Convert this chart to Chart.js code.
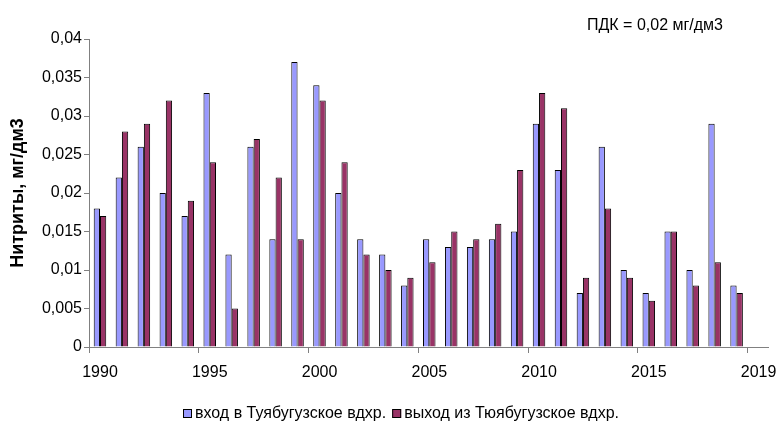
<!DOCTYPE html>
<html lang="ru">
<head>
    <meta charset="UTF-8">
    <title>Нитриты</title>
    <script src="https://cdn.jsdelivr.net/npm/chart.js"></script>
    <style>
        body { margin: 0; background: #ffffff; }
        #chart { display: block; }
    </style>
</head>
<body>
    <canvas id="chart" width="777" height="426"></canvas>

    <script>
        // data
        const years = [1990, 1991, 1992, 1993, 1994, 1995, 1996, 1997, 1998, 1999,
                       2000, 2001, 2002, 2003, 2004, 2005, 2006, 2007, 2008, 2009,
                       2010, 2011, 2012, 2013, 2014, 2015, 2016, 2017, 2018, 2019];
        const inflow = [0.018, 0.022, 0.026, 0.020, 0.017, 0.033, 0.012, 0.026, 0.014, 0.037,
                        0.034, 0.020, 0.014, 0.012, 0.008, 0.014, 0.013, 0.013, 0.014, 0.015,
                        0.029, 0.023, 0.007, 0.026, 0.010, 0.007, 0.015, 0.010, 0.029, 0.008];
        const outflow = [0.017, 0.028, 0.029, 0.032, 0.019, 0.024, 0.005, 0.027, 0.022, 0.014,
                         0.032, 0.024, 0.012, 0.010, 0.009, 0.011, 0.015, 0.014, 0.016, 0.023,
                         0.033, 0.031, 0.009, 0.018, 0.009, 0.006, 0.015, 0.008, 0.011, 0.007];
        const xTickValues = [1990, 1995, 2000, 2005, 2010, 2015, 2020];
        const xTickLabels = ['1990', '1995', '2000', '2005', '2010', '2015', '2019'];
        const yTickLabels = ['0', '0,005', '0,01', '0,015', '0,02', '0,025', '0,03', '0,035', '0,04'];
        const seriesNames = ['вход в Туябугузское вдхр.', 'выход из Тюябугузское вдхр.'];
        const noteText = 'ПДК = 0,02 мг/дм3';

        const axisColor = '#808080';
        const font = 'Liberation Sans, Arial, sans-serif';

        // each year's pair of bars sits in the middle of its year interval
        const toPoints = vals => vals.map((v, i) => ({ x: years[i] + 0.5, y: v }));

        // legend + ПДК note, drawn by hand so they sit where the original has them
        const extras = {
            id: 'extras',
            afterDraw(chart) {
                const ctx = chart.ctx;
                ctx.save();
                ctx.font = '16px ' + font;
                ctx.textBaseline = 'middle';
                ctx.fillStyle = '#000';
                ctx.fillText(noteText, 587, 26);

                let x = 183;
                const y = 409, box = 9;
                chart.data.datasets.forEach(ds => {
                    ctx.fillStyle = ds.backgroundColor;
                    ctx.fillRect(x, y, box, box);
                    ctx.strokeStyle = '#000';
                    ctx.lineWidth = 1;
                    ctx.strokeRect(x + 0.5, y + 0.5, box - 1, box - 1);
                    ctx.fillStyle = '#000';
                    ctx.fillText(ds.label, x + box + 3, y + box / 2 + 0.5);
                    x += box + 3 + ctx.measureText(ds.label).width + 6;
                });
                ctx.restore();
            }
        };

        new Chart(document.getElementById('chart'), {
            type: 'bar',
            data: {
                datasets: [
                    {
                        label: seriesNames[0],
                        data: toPoints(inflow),
                        backgroundColor: '#9999ff',
                        borderColor: '#000000',
                        borderWidth: 1,
                        barPercentage: 1.0,
                        categoryPercentage: 0.57
                    },
                    {
                        label: seriesNames[1],
                        data: toPoints(outflow),
                        backgroundColor: '#993366',
                        borderColor: '#000000',
                        borderWidth: 1,
                        barPercentage: 1.0,
                        categoryPercentage: 0.57
                    }
                ]
            },
            options: {
                responsive: false,
                animation: false,
                devicePixelRatio: 1,
                layout: { padding: { top: 39, right: 9, bottom: 0, left: 0 } },
                scales: {
                    x: {
                        type: 'linear',
                        min: 1990,
                        max: 2020.93,
                        offset: false,
                        grid: { offset: false, drawOnChartArea: false, drawTicks: true, tickLength: 6, color: axisColor },
                        border: { color: axisColor, width: 1 },
                        afterBuildTicks: scale => {
                            scale.ticks = xTickValues.map(v => ({ value: v }));
                        },
                        afterFit: scale => { scale.height = 79; },
                        ticks: {
                            autoSkip: false,
                            maxRotation: 0,
                            padding: 10,
                            labelOffset: 11,
                            color: '#000',
                            font: { family: font, size: 16 },
                            callback: (v, i) => xTickLabels[i]
                        }
                    },
                    y: {
                        min: 0,
                        max: 0.04,
                        grid: { drawOnChartArea: false, drawTicks: true, tickLength: 5, color: axisColor },
                        border: { color: axisColor, width: 1 },
                        afterFit: scale => { scale.width = 89; },
                        ticks: {
                            stepSize: 0.005,
                            padding: 2,
                            color: '#000',
                            font: { family: font, size: 16 },
                            callback: (v, i) => yTickLabels[i]
                        },
                        title: {
                            display: true,
                            text: 'Нитриты, мг/дм3',
                            color: '#000',
                            padding: { top: 7, bottom: 0 },
                            font: { family: font, size: 18, weight: 'bold' }
                        }
                    }
                },
                plugins: {
                    legend: { display: false },
                    tooltip: { enabled: false }
                }
            },
            plugins: [extras]
        });
    </script>
</body>
</html>
